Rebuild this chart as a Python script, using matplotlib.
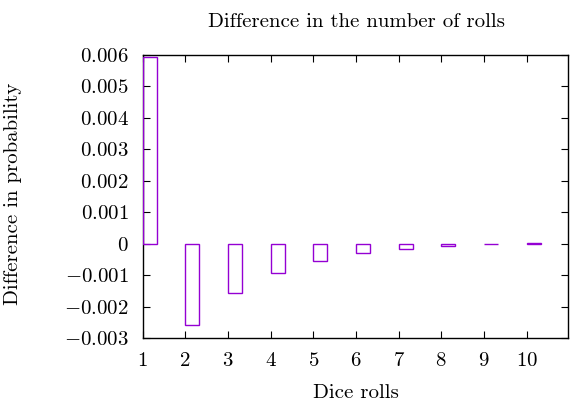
import matplotlib
matplotlib.use("Agg")
import matplotlib.pyplot as plt
from matplotlib.ticker import FixedLocator, FuncFormatter

rolls = [1, 2, 3, 4, 5, 6, 7, 8, 9, 10]
diff = [0.00595, -0.00258, -0.00156, -0.00092, -0.00054, -0.00030, -0.00015, -0.00007, -0.00002, 0.00002]
yticks = [-0.003, -0.002, -0.001, 0, 0.001, 0.002, 0.003, 0.004, 0.005, 0.006]
xticks = [1, 2, 3, 4, 5, 6, 7, 8, 9, 10]

plt.rcParams['mathtext.fontset'] = 'cm'
plt.rcParams['font.family'] = ['cmr10', 'DejaVu Serif']
plt.rcParams['axes.formatter.use_mathtext'] = True

W, H = 570, 403
fig = plt.figure(figsize=(5.7, 4.03), dpi=100)
ax = fig.add_axes([142.5/W, 1-338.3/H, (568-142.5)/W, (338.3-55)/H])

ax.bar(rolls, diff, width=0.33, align='edge', fill=False,
       edgecolor='#9400D3', linewidth=1.0, zorder=3)

ax.set_xlim(1, 10.97)
ax.set_ylim(-0.003, 0.006)
ax.xaxis.set_major_locator(FixedLocator(xticks))
ax.yaxis.set_major_locator(FixedLocator(yticks))

def yfmt(v, pos):
    if abs(v) < 1e-12:
        return r'$0$'
    return r'$%.3f$' % v

ax.yaxis.set_major_formatter(FuncFormatter(yfmt))
ax.xaxis.set_major_formatter(FuncFormatter(lambda v, p: r'$%d$' % v))

ax.tick_params(direction='in', length=5, width=0.8, top=True, right=True,
               labelsize=15, colors='black')
ax.tick_params(axis='x', pad=10)
ax.tick_params(axis='y', pad=10)
for s in ax.spines.values():
    s.set_linewidth(1.0)

fig.text(356/W, 1-26.7/H, 'Difference in the number of rolls', ha='center',
         va='baseline', fontsize=15)
fig.text(356/W, 1-398.3/H, 'Dice rolls', ha='center', va='baseline', fontsize=15)
fig.text(13.5/W, 1-194/H, 'Difference in probability', ha='center', va='center',
         rotation=90, fontsize=15)

fig.savefig('out.png', dpi=100)
